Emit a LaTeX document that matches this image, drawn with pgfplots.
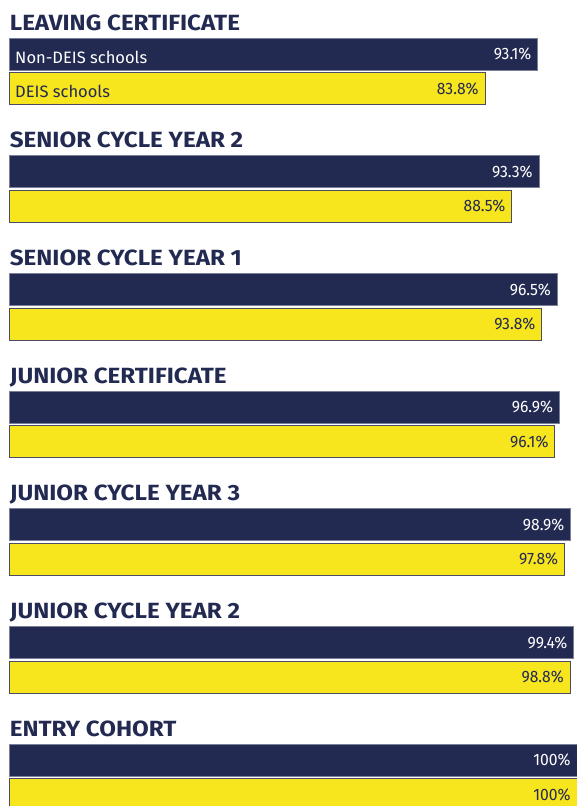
\documentclass[border=0pt]{standalone}
\usepackage{pgfplots}
\pgfplotsset{compat=1.18}
\usepackage{fontspec}
\setmainfont{Fira Sans}
\newfontfamily\titlefont[FakeStretch=1.1]{Fira Sans}
\newfontfamily\labfont{Fira Sans}
\newfontfamily\valfont[FakeStretch=0.95]{Fira Sans}
\definecolor{navy}{HTML}{232A52}
\definecolor{yel}{HTML}{F7E51E}
\definecolor{yedge}{HTML}{4A4D63}
\begin{document}
\begin{tikzpicture}
\begin{axis}[
  width=577pt, height=806pt, scale only axis,
  xmin=-1.6, xmax=100, ymin=0, ymax=806, y dir=reverse,
  axis lines=none, ticks=none,
  xbar, bar width=32, bar shift=0pt,
  point meta=x,
  /pgf/number format/assume math mode=true,
  nodes near coords={\pgfmathprintnumber{\pgfplotspointmeta}\%},
  nodes near coords align={anchor=east},
  every node near coord/.append style={anchor=east, font=\valfont\fontsize{16.5}{16.5}\selectfont, inner xsep=6pt},
]
\addplot[fill=navy, draw=navy!60!white, line width=0.8pt,
  every node near coord/.append style={text=white}] coordinates {
  (93.1,54) (93.3,171.7) (96.5,289.4) (96.9,407.1) (98.9,524.8) (99.4,642.5) (100,760.2)};
\addplot[fill=yel, draw=yedge, line width=0.8pt,
  every node near coord/.append style={text=navy}] coordinates {
  (83.8,88.5) (88.5,206.2) (93.8,323.9) (96.1,441.6) (97.8,559.3) (98.8,677.0) (100,794.7)};
\begin{scope}[every node/.style={anchor=base west, inner sep=0pt, text=navy, font=\titlefont\bfseries\fontsize{22}{22}\selectfont}]
\node at (axis cs:0.1,30) {LEAVING CERTIFICATE};
\node at (axis cs:0.1,147.7) {SENIOR CYCLE YEAR 2};
\node at (axis cs:0.1,265.4) {SENIOR CYCLE YEAR 1};
\node at (axis cs:0.1,383.1) {JUNIOR CERTIFICATE};
\node at (axis cs:0.1,500.8) {JUNIOR CYCLE YEAR 3};
\node at (axis cs:0.1,618.5) {JUNIOR CYCLE YEAR 2};
\node at (axis cs:0.1,736.2) {ENTRY COHORT};
\end{scope}
\node[anchor=base west, inner sep=0pt, text=white, font=\labfont\fontsize{16.5}{16.5}\selectfont] at (axis cs:1.05,63) {Non-DEIS schools};
\node[anchor=base west, inner sep=0pt, text=navy, font=\labfont\fontsize{16.5}{16.5}\selectfont] at (axis cs:1.05,97.5) {DEIS schools};
\path (rel axis cs:0,0) rectangle (rel axis cs:1,1);
\end{axis}
\end{tikzpicture}
\end{document}
